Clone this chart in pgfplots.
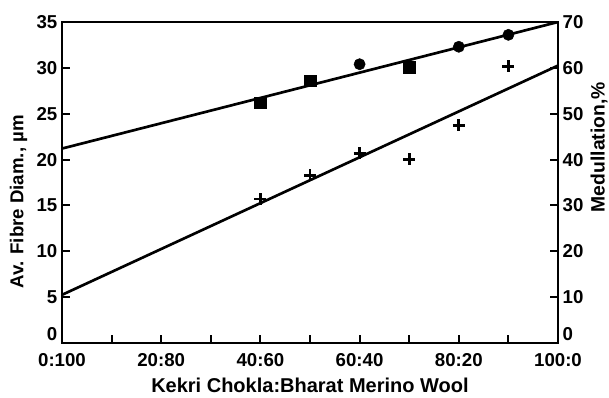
\documentclass[border=0pt]{standalone}
\usepackage{fontspec}
\setmainfont{Liberation Sans}
\usepackage{pgfplots}
\pgfplotsset{compat=1.18}
\begin{document}
\begin{tikzpicture}
\pgfplotsset{
  every axis/.append style={
    scale only axis, width=372pt, height=240.75pt,
    xmin=0, xmax=100,
    axis line style={line width=2pt},
    tick style={line width=1.5pt, black},
    major tick length=6pt, minor tick length=6pt,
    tick align=inside,
    tick label style={font=\fontsize{14}{16}\selectfont\bfseries},
    label style={font=\fontsize{14}{16}\selectfont\bfseries},
    /pgf/number format/assume math mode=true,
  }
}
% Left scale: average fibre diameter
\begin{axis}[
  ymin=0, ymax=35,
  ytick={0,5,...,35},
  yticklabels={\raisebox{7pt}[\height][\depth]{0},5,10,15,20,25,30,35},
  xtick={0,20,...,100},
  minor xtick={10,30,...,90},
  xticklabels={0:100,20:80,40:60,60:40,80:20,100:0},
  xtick pos=bottom, ytick pos=left,
  xticklabel style={yshift=-4pt},
  xlabel={Kekri Chokla:Bharat Merino Wool},
  xlabel style={yshift=-5pt, inner sep=0.5pt, font=\fontsize{15}{17}\selectfont\bfseries},
  ylabel={Av. Fibre Diam., µm},
  ylabel style={at={(ticklabel cs:0.44)}},
]
\coordinate (SW) at (rel axis cs:0,0);
\coordinate (NE) at (rel axis cs:1,1);
\addplot[black, line width=2pt, no marks] coordinates {(0,21.2) (100,35.0)};
\addplot[black, only marks, mark=square*, mark size=4.4pt]
  coordinates {(40,26.2) (50,28.6) (70,30.1)};
\addplot[black, only marks, mark=*, mark size=4.2pt]
  coordinates {(60,30.4) (80,32.3) (90,33.6)};
\end{axis}
% Right scale: medullation
\begin{axis}[
  ymin=0, ymax=70,
  ytick={0,10,...,70},
  yticklabels={\raisebox{7pt}[\height][\depth]{0},10,20,30,40,50,60,70},
  axis x line=none,
  axis y line*=right,
  ylabel={Medullation,\%},
  ylabel style={at={(ticklabel cs:0.61,-1.5pt)}, font=\fontsize{14.5}{16}\selectfont\bfseries},
]
\addplot[black, line width=2pt, no marks] coordinates {(0,10.5) (100,60.5)};
\addplot[black, only marks, mark=+, mark size=4.5pt, mark options={line width=2.2pt}]
  coordinates {(40,31.4) (50,36.6) (60,41.4) (70,40.1) (80,47.5) (90,60.3)};
\end{axis}
\pgfresetboundingbox
\path[use as bounding box] ([xshift=-46.5pt,yshift=-40.5pt]SW) rectangle ([xshift=38.25pt,yshift=16.5pt]NE);
\end{tikzpicture}
\end{document}
